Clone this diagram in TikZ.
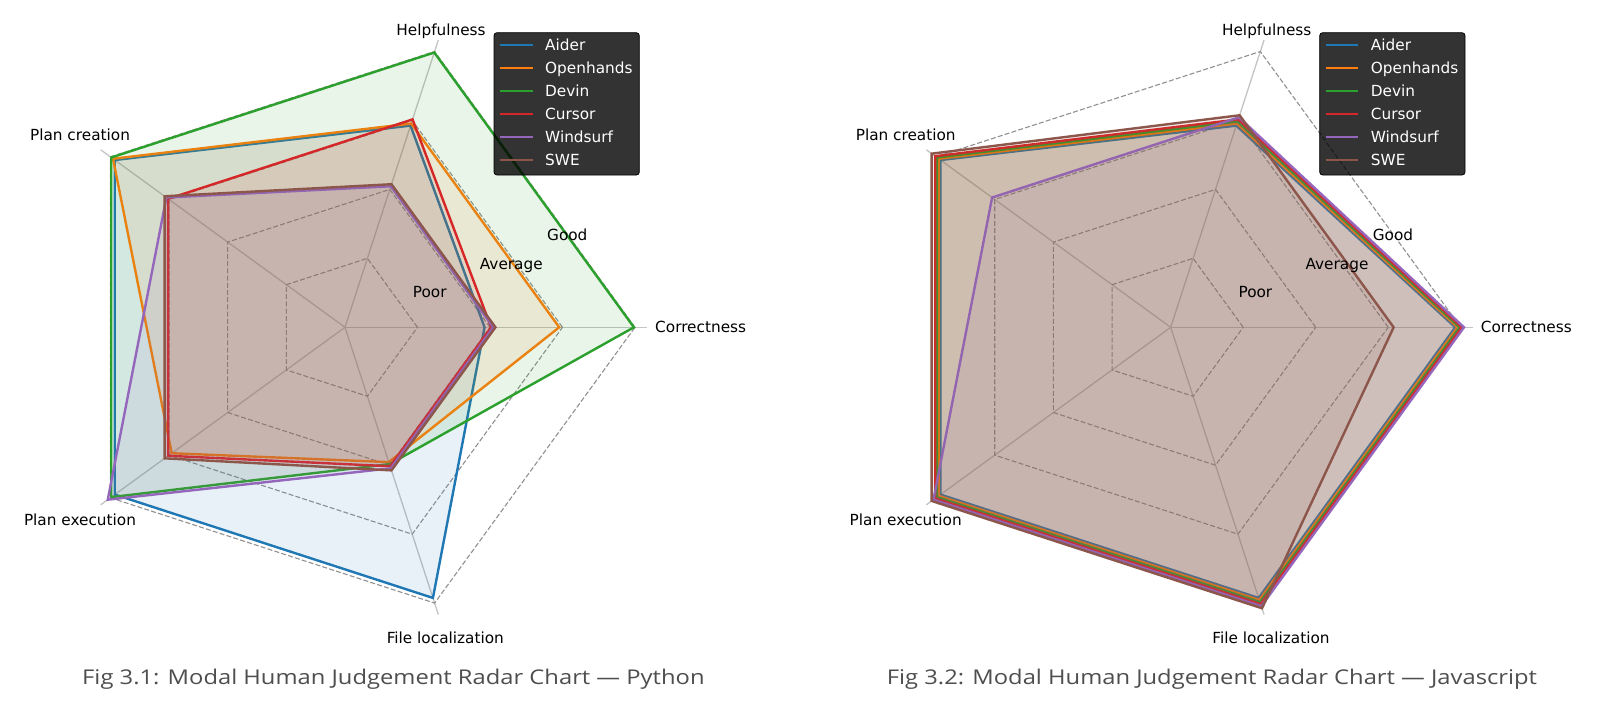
\documentclass[tikz,border=0pt]{standalone}
\usepackage{fontspec}
\newfontfamily\dejavu{DejaVu Sans}
\newfontfamily\capfont[FakeStretch=1.17]{Open Sans}
\definecolor{cAider}{RGB}{31,119,180}
\definecolor{cOpen}{RGB}{255,127,14}
\definecolor{cDevin}{RGB}{44,160,44}
\definecolor{cCursor}{RGB}{214,39,40}
\definecolor{cWind}{RGB}{148,103,189}
\definecolor{cSWE}{RGB}{140,86,75}
\definecolor{ringgray}{RGB}{145,145,145}
\definecolor{spokegray}{RGB}{196,196,196}
\definecolor{capgray}{RGB}{78,78,78}
\tikzset{
  ring/.style={draw=ringgray, line width=1.1pt, dash pattern=on 5pt off 2.2pt},
  spoke/.style={draw=spokegray, line width=1.3pt},
  series/.style={line width=2.4pt, line join=miter},
  axlabel/.style={font=\dejavu\fontsize{15.3}{18}\selectfont, inner sep=0pt, anchor=base},
  legbox/.style={fill=black, fill opacity=0.8, draw=black, rounded corners=3pt, line width=0.8pt},
  legline/.style={line width=2.4pt},
  legtext/.style={font=\dejavu\fontsize{15.3}{18}\selectfont, text=white, inner sep=0pt, anchor=base west},
  captext/.style={font=\capfont\fontsize{20.3}{24}\selectfont, text=capgray, inner sep=0pt, anchor=base},
}
% series: colour, offset, five values
\newcommand\rser[7]{%
  \draw[series, draw=#1] (0:{(#3+(#2))*72.5}) -- (72:{(#4+(#2))*72.5}) -- (144:{(#5+(#2))*72.5}) -- (216:{(#6+(#2))*72.5}) -- (288:{(#7+(#2))*72.5}) -- cycle;
  \fill[#1, fill opacity=0.1] (0:{(#3+(#2))*72.5}) -- (72:{(#4+(#2))*72.5}) -- (144:{(#5+(#2))*72.5}) -- (216:{(#6+(#2))*72.5}) -- (288:{(#7+(#2))*72.5}) -- cycle;
}
\newcommand\rgrid{%
  \foreach \a in {0,72,144,216,288} { \draw[spoke] (0,0) -- (\a:302); }
  \foreach \k in {1,2,3,4} { \draw[ring] (0:{\k*72.5}) -- (72:{\k*72.5}) -- (144:{\k*72.5}) -- (216:{\k*72.5}) -- (288:{\k*72.5}) -- cycle; }
}
\newcommand\rlabels[1]{%
  \node[axlabel, anchor=base west] (#1corr) at (310,-5.4) {Correctness};
  \node[axlabel] (#1help) at (96,291.3) {Helpfulness};
  \node[axlabel] (#1pc) at (-265,187) {Plan creation};
  \node[axlabel] (#1pe) at (-265,-197.7) {Plan execution};
  \node[axlabel] (#1fl) at (100.3,-316.4) {File localization};
  \node[axlabel] (#1poor) at (84.7,30) {Poor};
  \node[axlabel] (#1avg) at (166.3,58.3) {Average};
  \node[axlabel] (#1good) at (222.3,86.6) {Good};
}
\newcommand\rlegend[1]{%
  \path[legbox] (494,32.7) rectangle (639.3,175);
  \foreach \c/\t/\i in {cAider/Aider/0, cOpen/Openhands/1, cDevin/Devin/2, cCursor/Cursor/3, cWind/Windsurf/4, cSWE/SWE/5} {
    \draw[legline, draw=\c] (500,{45.2+22.95*\i}) -- (532.7,{45.2+22.95*\i});
    \node[legtext] (#1leg\i) at (545,{51+22.95*\i}) {\t};
  }
}
\begin{document}
\begin{tikzpicture}[x=1pt,y=-1pt]
\useasboundingbox (0,0) rectangle (1597,701);
\fill[white] (0,0) rectangle (1597,701);
% ---------- left chart: Python ----------
\begin{scope}[shift={(345,327.3)}, y=1pt]
  \rgrid
  \rser{cAider}{-0.075}{2}{3}{4}{4}{4}
  \rser{cOpen}{-0.045}{3}{3}{4}{3}{2}
  \rser{cDevin}{-0.015}{4}{4}{4}{4}{2}
  \rser{cCursor}{0.015}{2}{3}{3}{3}{2}
  \rser{cWind}{0.045}{2}{2}{3}{4}{2}
  \rser{cSWE}{0.075}{2}{2}{3}{3}{2}
  \rlabels{L}
\end{scope}
\begin{scope}
  \rlegend{L}
\end{scope}
% ---------- right chart: Javascript ----------
\begin{scope}[shift={(1170.7,327.3)}, y=1pt]
  \rgrid
  \rser{cAider}{-0.075}{4}{3}{4}{4}{4}
  \rser{cOpen}{-0.045}{4}{3}{4}{4}{4}
  \rser{cDevin}{-0.015}{4}{3}{4}{4}{4}
  \rser{cCursor}{0.015}{4}{3}{4}{4}{4}
  \rser{cWind}{0.045}{4}{3}{3}{4}{4}
  \rser{cSWE}{0.075}{3}{3}{4}{4}{4}
  \rlabels{R}
\end{scope}
\begin{scope}[shift={(825.7,0)}]
  \rlegend{R}
\end{scope}
% ---------- captions ----------
\node[captext] (capL) at (393.4,684.3) {Fig 3.1: Modal Human Judgement Radar Chart — Python};
\node[captext] (capR) at (1212,684.3) {Fig 3.2: Modal Human Judgement Radar Chart — Javascript};
\end{tikzpicture}
\end{document}
